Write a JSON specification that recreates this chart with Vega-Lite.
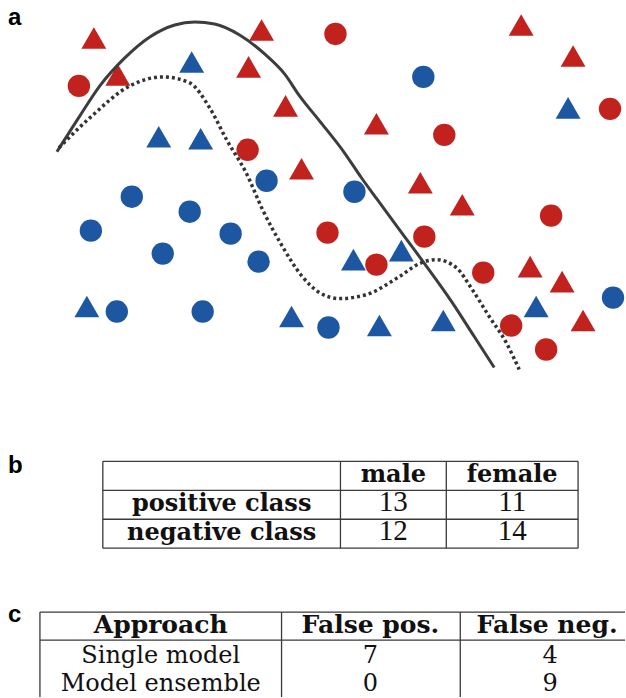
{
  "$schema": "https://vega.github.io/schema/vega-lite/v6.json",
  "width": 626,
  "height": 698,
  "autosize": {"type": "fit", "contains": "padding"},
  "padding": 0,
  "background": "white",
  "config": {"view": {"stroke": null}},
  "datasets": {
    "points": [
      {"x": 94, "y": 38, "cls": "red", "kind": "triangle"},
      {"x": 79, "y": 86, "cls": "red", "kind": "circle"},
      {"x": 118, "y": 75, "cls": "red", "kind": "triangle"},
      {"x": 192, "y": 62, "cls": "blue", "kind": "triangle"},
      {"x": 262, "y": 30, "cls": "red", "kind": "triangle"},
      {"x": 249, "y": 67, "cls": "red", "kind": "triangle"},
      {"x": 286, "y": 106, "cls": "red", "kind": "triangle"},
      {"x": 159, "y": 137, "cls": "blue", "kind": "triangle"},
      {"x": 201, "y": 139, "cls": "blue", "kind": "triangle"},
      {"x": 248, "y": 150, "cls": "red", "kind": "circle"},
      {"x": 267, "y": 181, "cls": "blue", "kind": "circle"},
      {"x": 302, "y": 169, "cls": "red", "kind": "triangle"},
      {"x": 336, "y": 34, "cls": "red", "kind": "circle"},
      {"x": 424, "y": 77, "cls": "blue", "kind": "circle"},
      {"x": 377, "y": 124, "cls": "red", "kind": "triangle"},
      {"x": 445, "y": 135, "cls": "red", "kind": "circle"},
      {"x": 522, "y": 25, "cls": "red", "kind": "triangle"},
      {"x": 574, "y": 56, "cls": "red", "kind": "triangle"},
      {"x": 569, "y": 108, "cls": "blue", "kind": "triangle"},
      {"x": 611, "y": 109, "cls": "red", "kind": "circle"},
      {"x": 421, "y": 183, "cls": "red", "kind": "triangle"},
      {"x": 355, "y": 192, "cls": "blue", "kind": "circle"},
      {"x": 463, "y": 205, "cls": "red", "kind": "triangle"},
      {"x": 132, "y": 197, "cls": "blue", "kind": "circle"},
      {"x": 91, "y": 231, "cls": "blue", "kind": "circle"},
      {"x": 190, "y": 212, "cls": "blue", "kind": "circle"},
      {"x": 163, "y": 254, "cls": "blue", "kind": "circle"},
      {"x": 231, "y": 234, "cls": "blue", "kind": "circle"},
      {"x": 259, "y": 262, "cls": "blue", "kind": "circle"},
      {"x": 87, "y": 307, "cls": "blue", "kind": "triangle"},
      {"x": 117, "y": 312, "cls": "blue", "kind": "circle"},
      {"x": 203, "y": 312, "cls": "blue", "kind": "circle"},
      {"x": 292, "y": 317, "cls": "blue", "kind": "triangle"},
      {"x": 552, "y": 216, "cls": "red", "kind": "circle"},
      {"x": 328, "y": 233, "cls": "red", "kind": "circle"},
      {"x": 425, "y": 237, "cls": "red", "kind": "circle"},
      {"x": 354, "y": 260, "cls": "blue", "kind": "triangle"},
      {"x": 377, "y": 265, "cls": "red", "kind": "circle"},
      {"x": 402, "y": 251, "cls": "blue", "kind": "triangle"},
      {"x": 484, "y": 273, "cls": "red", "kind": "circle"},
      {"x": 531, "y": 267, "cls": "red", "kind": "triangle"},
      {"x": 563, "y": 282, "cls": "red", "kind": "triangle"},
      {"x": 614, "y": 298, "cls": "blue", "kind": "circle"},
      {"x": 537, "y": 307, "cls": "blue", "kind": "triangle"},
      {"x": 584, "y": 321, "cls": "red", "kind": "triangle"},
      {"x": 512, "y": 326, "cls": "red", "kind": "circle"},
      {"x": 547, "y": 350, "cls": "red", "kind": "circle"},
      {"x": 329, "y": 328, "cls": "blue", "kind": "circle"},
      {"x": 380, "y": 326, "cls": "blue", "kind": "triangle"},
      {"x": 444, "y": 321, "cls": "blue", "kind": "triangle"}
    ],
    "curves": [
      {"curve": "single", "x": 57, "y": 152},
      {"curve": "single", "x": 80, "y": 116},
      {"curve": "single", "x": 100, "y": 86},
      {"curve": "single", "x": 125, "y": 58},
      {"curve": "single", "x": 150, "y": 37},
      {"curve": "single", "x": 175, "y": 25},
      {"curve": "single", "x": 195, "y": 22},
      {"curve": "single", "x": 215, "y": 24},
      {"curve": "single", "x": 240, "y": 35},
      {"curve": "single", "x": 265, "y": 54},
      {"curve": "single", "x": 285, "y": 74},
      {"curve": "single", "x": 300, "y": 96},
      {"curve": "single", "x": 320, "y": 121},
      {"curve": "single", "x": 345, "y": 153},
      {"curve": "single", "x": 362, "y": 178},
      {"curve": "single", "x": 378, "y": 200},
      {"curve": "single", "x": 400, "y": 230},
      {"curve": "single", "x": 423, "y": 261},
      {"curve": "single", "x": 453, "y": 303},
      {"curve": "single", "x": 475, "y": 337},
      {"curve": "single", "x": 495, "y": 368},
      {"curve": "ensemble", "x": 59, "y": 148},
      {"curve": "ensemble", "x": 90, "y": 118},
      {"curve": "ensemble", "x": 130, "y": 86},
      {"curve": "ensemble", "x": 163, "y": 77},
      {"curve": "ensemble", "x": 190, "y": 83},
      {"curve": "ensemble", "x": 210, "y": 108},
      {"curve": "ensemble", "x": 227, "y": 140},
      {"curve": "ensemble", "x": 247, "y": 174},
      {"curve": "ensemble", "x": 263, "y": 210},
      {"curve": "ensemble", "x": 283, "y": 247},
      {"curve": "ensemble", "x": 302, "y": 276},
      {"curve": "ensemble", "x": 320, "y": 293},
      {"curve": "ensemble", "x": 340, "y": 299},
      {"curve": "ensemble", "x": 367, "y": 295},
      {"curve": "ensemble", "x": 400, "y": 277},
      {"curve": "ensemble", "x": 420, "y": 264},
      {"curve": "ensemble", "x": 437, "y": 260},
      {"curve": "ensemble", "x": 457, "y": 268},
      {"curve": "ensemble", "x": 473, "y": 290},
      {"curve": "ensemble", "x": 490, "y": 317},
      {"curve": "ensemble", "x": 507, "y": 343},
      {"curve": "ensemble", "x": 520, "y": 370}
    ],
    "rules": [
      {"x": 103, "x2": 579, "y": 462, "y2": 462},
      {"x": 103, "x2": 579, "y": 491, "y2": 491},
      {"x": 103, "x2": 579, "y": 520, "y2": 520},
      {"x": 103, "x2": 579, "y": 549, "y2": 549},
      {"x": 103, "x2": 103, "y": 462, "y2": 549},
      {"x": 341, "x2": 341, "y": 462, "y2": 549},
      {"x": 447, "x2": 447, "y": 462, "y2": 549},
      {"x": 579, "x2": 579, "y": 462, "y2": 549},
      {"x": 40, "x2": 626, "y": 613, "y2": 613},
      {"x": 40, "x2": 626, "y": 641, "y2": 641},
      {"x": 40, "x2": 40, "y": 613, "y2": 698},
      {"x": 282, "x2": 282, "y": 613, "y2": 698},
      {"x": 461, "x2": 461, "y": 613, "y2": 698}
    ],
    "texts": [
      {"part": "panel", "t": "a", "x": 8, "y": 25},
      {"part": "panel", "t": "b", "x": 8, "y": 474},
      {"part": "panel", "t": "c", "x": 8, "y": 623},
      {"part": "bhead", "t": "male", "x": 394, "y": 483},
      {"part": "bhead", "t": "female", "x": 513, "y": 483},
      {"part": "bhead", "t": "positive class", "x": 222, "y": 512},
      {"part": "bhead", "t": "negative class", "x": 222, "y": 541},
      {"part": "bbody", "t": "13", "x": 394, "y": 512},
      {"part": "bbody", "t": "11", "x": 513, "y": 512},
      {"part": "bbody", "t": "12", "x": 394, "y": 541},
      {"part": "bbody", "t": "14", "x": 513, "y": 541},
      {"part": "chead", "t": "Approach", "x": 161, "y": 634},
      {"part": "chead", "t": "False pos.", "x": 371, "y": 634},
      {"part": "chead", "t": "False neg.", "x": 548, "y": 634},
      {"part": "cbody", "t": "Single model", "x": 161, "y": 664},
      {"part": "cbody", "t": "Model ensemble", "x": 161, "y": 692},
      {"part": "cbody", "t": "7", "x": 371, "y": 664},
      {"part": "cbody", "t": "0", "x": 371, "y": 692},
      {"part": "cbody", "t": "4", "x": 551, "y": 664},
      {"part": "cbody", "t": "9", "x": 551, "y": 692}
    ]
  },
  "encoding": {
    "x": {"field": "x", "type": "quantitative", "scale": {"domain": [0, 626], "nice": false, "zero": false}, "axis": null},
    "y": {"field": "y", "type": "quantitative", "scale": {"domain": [0, 698], "nice": false, "zero": false, "reverse": true}, "axis": null}
  },
  "layer": [
    {
      "data": {"name": "points"},
      "transform": [{"filter": "datum.kind === 'circle'"}],
      "mark": {"type": "point", "shape": "circle", "filled": true, "size": 500, "opacity": 1},
      "encoding": {
        "color": {"field": "cls", "type": "nominal", "scale": {"domain": ["red", "blue"], "range": ["#C1221D", "#1D57A2"]}, "legend": null}
      }
    },
    {
      "data": {"name": "points"},
      "transform": [{"filter": "datum.kind === 'triangle'"}],
      "mark": {"type": "point", "shape": "triangle-up", "filled": true, "size": 620, "opacity": 1},
      "encoding": {
        "color": {"field": "cls", "type": "nominal", "scale": {"domain": ["red", "blue"], "range": ["#C1221D", "#1D57A2"]}, "legend": null}
      }
    },
    {
      "data": {"name": "curves"},
      "transform": [{"filter": "datum.curve === 'single'"}],
      "mark": {"type": "line", "interpolate": "monotone", "color": "#3d3d40", "strokeWidth": 3},
      "encoding": {}
    },
    {
      "data": {"name": "curves"},
      "transform": [{"filter": "datum.curve === 'ensemble'"}],
      "mark": {"type": "line", "interpolate": "monotone", "color": "#333336", "strokeWidth": 3.5, "strokeDash": [3, 3]},
      "encoding": {}
    },
    {
      "data": {"name": "rules"},
      "mark": {"type": "rule", "color": "#3a3a3a", "strokeWidth": 1.3},
      "encoding": {
        "x2": {"field": "x2"},
        "y2": {"field": "y2"}
      }
    },
    {
      "data": {"name": "texts"},
      "transform": [{"filter": "datum.part === 'panel'"}],
      "mark": {"type": "text", "align": "left", "baseline": "alphabetic", "font": "Liberation Sans", "fontWeight": "bold", "fontSize": 24, "color": "#000"},
      "encoding": {"text": {"field": "t"}}
    },
    {
      "data": {"name": "texts"},
      "transform": [{"filter": "datum.part === 'bhead'"}],
      "mark": {"type": "text", "align": "center", "baseline": "alphabetic", "font": "DejaVu Serif", "fontWeight": "bold", "fontSize": 24, "color": "#111"},
      "encoding": {"text": {"field": "t"}}
    },
    {
      "data": {"name": "texts"},
      "transform": [{"filter": "datum.part === 'bbody'"}],
      "mark": {"type": "text", "align": "center", "baseline": "alphabetic", "font": "Liberation Serif", "fontSize": 29, "color": "#111"},
      "encoding": {"text": {"field": "t"}}
    },
    {
      "data": {"name": "texts"},
      "transform": [{"filter": "datum.part === 'chead'"}],
      "mark": {"type": "text", "align": "center", "baseline": "alphabetic", "font": "DejaVu Serif", "fontWeight": "bold", "fontSize": 25, "color": "#111"},
      "encoding": {"text": {"field": "t"}}
    },
    {
      "data": {"name": "texts"},
      "transform": [{"filter": "datum.part === 'cbody'"}],
      "mark": {"type": "text", "align": "center", "baseline": "alphabetic", "font": "DejaVu Serif", "fontSize": 24, "color": "#111"},
      "encoding": {"text": {"field": "t"}}
    }
  ]
}
